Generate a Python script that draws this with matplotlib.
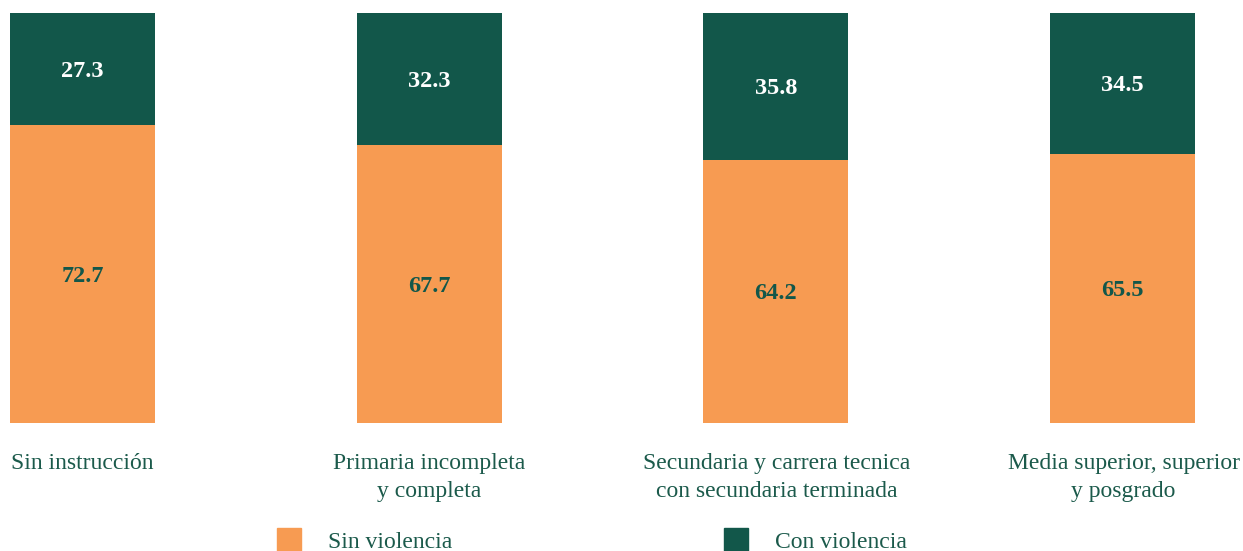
import matplotlib
matplotlib.use("Agg")
import matplotlib.pyplot as plt
from matplotlib.patches import Rectangle

categories = ["Sin instrucción", "Primaria incompleta\ny completa",
              "Secundaria y carrera tecnica\ncon secundaria terminada",
              "Media superior, superior\ny posgrado"]
sin_violencia = [72.7, 67.7, 64.2, 65.5]
con_violencia = [27.3, 32.3, 35.8, 34.5]
series_names = ["Sin violencia", "Con violencia"]

ORANGE = "#F79B52"
GREEN = "#12574A"
TEXT = "#1B5A4B"

plt.rcParams['font.family'] = ['Liberation Serif', 'DejaVu Serif']

W, H = 1243, 551
fig = plt.figure(figsize=(W/100, H/100), dpi=100)
ax = fig.add_axes([10/W, 128/H, 1185/W, 410/H])

x = list(range(len(categories)))
bw = 0.418
ax.bar(x, sin_violencia, width=bw, color=ORANGE)
ax.bar(x, con_violencia, width=bw, bottom=sin_violencia, color=GREEN)
for i in x:
    ax.text(i, sin_violencia[i]/2 - 0.5, f"{sin_violencia[i]:.1f}", ha="center", va="center",
            fontsize=17.5, fontweight="bold", color=GREEN)
    ax.text(i, sin_violencia[i] + con_violencia[i]/2 - 0.5, f"{con_violencia[i]:.1f}",
            ha="center", va="center", fontsize=17.5, fontweight="bold", color="white")
ax.set_xlim(-bw/2, 3 + bw/2)
ax.set_ylim(0, 100)
ax.axis("off")

for i, c in enumerate(categories):
    xp = (10 + 145/2 + i*347) / W
    fig.text(xp, 1 - 453/H, c, ha="center", va="top", fontsize=17, color=TEXT,
             linespacing=1.42)

# legend
for sx, tx, col, name in [(277, 328, ORANGE, series_names[0]), (724, 775, GREEN, series_names[1])]:
    fig.patches.append(Rectangle((sx/W, 0), 24/W, 23/H, transform=fig.transFigure,
                                 color=col, zorder=1))
    fig.text(tx/W, 9/H, name, ha="left", va="center", fontsize=17, color=TEXT)

fig.savefig("out.png", dpi=100)
